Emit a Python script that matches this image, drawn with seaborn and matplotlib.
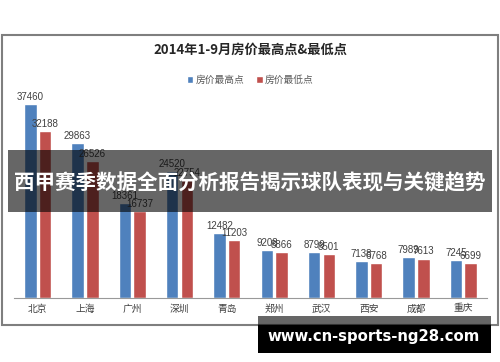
import pandas as pd
import seaborn as sns
import matplotlib.pyplot as plt
from matplotlib.patches import Rectangle

cities = ["北京", "上海", "广州", "深圳", "青岛", "郑州", "武汉", "西安", "成都", "重庆"]
high = [37460, 29863, 18361, 24520, 12482, 9208, 8799, 7138, 7989, 7245]
low = [32188, 26526, 16737, 22754, 11203, 8866, 8501, 6768, 7613, 6699]
series = ["房价最高点", "房价最低点"]
colors = ["#4F81BD", "#C0504D"]

title = "2014年1-9月房价最高点&最低点"
banner = "西甲赛季数据全面分析报告揭示球队表现与关键趋势"
site = "www.cn-sports-ng28.com"

df = pd.DataFrame({
    "city": cities * 2,
    "price": high + low,
    "series": [series[0]] * len(cities) + [series[1]] * len(cities),
})

sns.set_style("white")
plt.rcParams['font.family'] = ['Noto Sans CJK SC', 'DejaVu Sans']

fig = plt.figure(figsize=(5, 3.62), dpi=100)
ax = fig.add_axes([0.028, 0.1768, 0.946, 0.5724])

sns.barplot(data=df, x="city", y="price", hue="series", palette=colors,
            width=0.62, gap=0.15, ax=ax, legend=True, saturation=1)

for c in ax.containers:
    ax.bar_label(c, fontsize=7, color="#404040", padding=1.5, family="Liberation Sans")

ax.set_ylim(0, 40000)
ax.set_xlim(-0.5, len(cities) - 0.5)
ax.set_xlabel("")
ax.set_ylabel("")
ax.set_yticks([])
ax.tick_params(axis="x", length=0, labelsize=7, colors="#404040", pad=4)
for s in ["top", "left", "right"]:
    ax.spines[s].set_visible(False)
ax.spines["bottom"].set_color("#999999")
ax.spines["bottom"].set_linewidth(0.8)

ax.legend(loc="center", bbox_to_anchor=(0.5, 1 - 80 / 362), bbox_transform=fig.transFigure,
          ncol=2, frameon=False, fontsize=7, handlelength=0.7, handleheight=0.7,
          handletextpad=0.2, columnspacing=1.2, labelcolor="#595959")

fig.text(0.5, 1 - 50 / 362, title, ha="center", va="center", fontsize=9.5,
         fontweight="bold", color="#262626")

# outer chart frame
fig.add_artist(Rectangle((2 / 500, 37 / 362), 496 / 500, 290 / 362, transform=fig.transFigure,
                         fill=False, edgecolor="#7f7f7f", linewidth=1.5))

# overlay banner
fig.add_artist(Rectangle((8 / 500, 1 - 212 / 362), 484 / 500, 62 / 362, transform=fig.transFigure,
                         facecolor="black", alpha=0.6, linewidth=0, zorder=5))
fig.text(0.5, 1 - 183 / 362, banner, ha="center", va="center", fontsize=14.8,
         fontweight="bold", color="white", zorder=6)

# watermark
fig.add_artist(Rectangle((258 / 500, 1 - 325 / 362), 233 / 500, 9 / 362, transform=fig.transFigure,
                         facecolor="black", alpha=0.6, linewidth=0, zorder=5))
fig.add_artist(Rectangle((258 / 500, 1 - 353 / 362), 233 / 500, 28 / 362, transform=fig.transFigure,
                         facecolor="black", linewidth=0, zorder=5))
fig.text(374 / 500, 1 - 337 / 362, site, ha="center", va="center", fontsize=10.7,
         fontweight="bold", color="white", family="DejaVu Sans", zorder=6)

fig.savefig("out.png", dpi=100)
